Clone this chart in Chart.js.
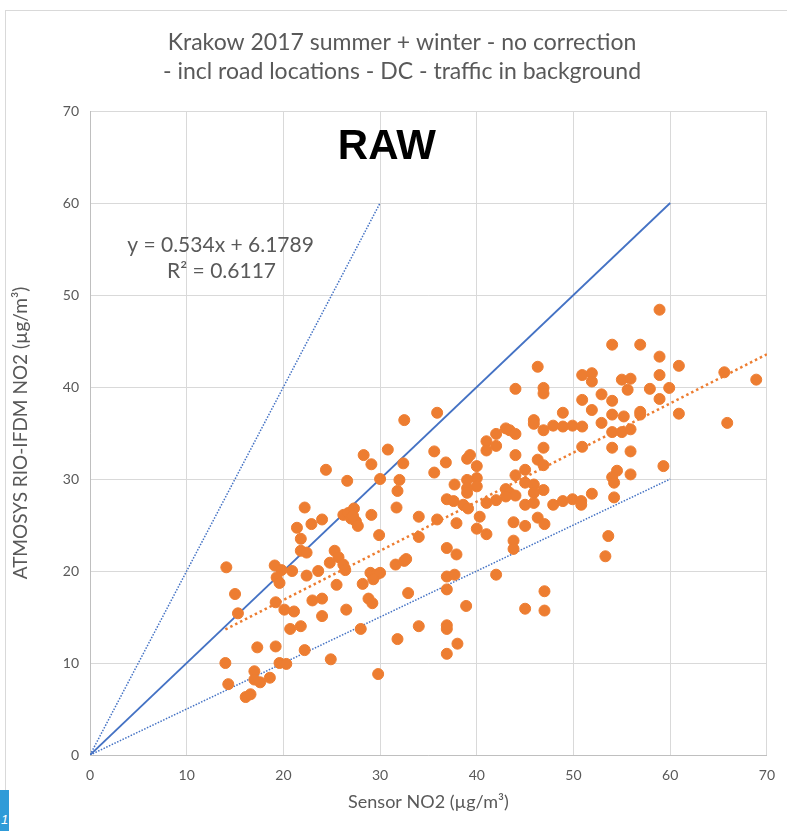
<!DOCTYPE html>
<html>
<head>
<meta charset="utf-8">
<script src="https://cdn.jsdelivr.net/npm/chart.js@4.4.1/dist/chart.umd.min.js"></script>
<style>
  html, body { margin: 0; padding: 0; background: #fff; }
  #wrap { position: relative; width: 787px; height: 831px; }
  #tag {
    position: absolute; left: 0; top: 790px; width: 9px; height: 41px;
    background: #2f9bd8; color: #fff; font: italic 13px "Liberation Sans";
    line-height: 60px; overflow: hidden; text-indent: 1px;
  }
</style>
</head>
<body>
<div id="wrap">
  <canvas id="chart" width="787" height="831"></canvas>
  <div id="tag">1</div>
</div>
<script>
const TITLE = [
  "Krakow 2017 summer + winter - no correction",
  "- incl road locations - DC - traffic in background",
];
const X_TITLE = "Sensor NO2 (µg/m³)";
const Y_TITLE = "ATMOSYS RIO-IFDM NO2 (µg/m³)";
const LABEL = "RAW";
const EQUATION = ["y = 0.534x + 6.1789", "R² = 0.6117"];

// sensor (x) and model (y) values, same order
const sensorNO2 = [
  14.1, 15.0, 15.3, 14.0, 14.3, 16.1, 16.6, 17.0, 17.0, 17.6, 17.3, 18.6, 19.2, 19.6, 20.3,
  19.1, 19.8, 19.3, 19.6, 19.2, 20.1, 21.1, 20.7, 21.8, 22.2, 20.9,
  21.4, 21.8, 21.8, 22.4, 22.9, 24.0, 22.2, 22.4, 23.6, 24.8, 25.3, 25.7, 26.2, 26.4, 25.5,
  23.0, 24.0, 24.0, 26.5, 24.9, 28.0, 24.4, 26.6,
  26.2, 26.7, 27.3, 27.0, 27.5, 27.7, 27.2,
  28.3, 29.1, 30.0, 29.1, 29.9, 28.2, 28.8, 29.2, 29.0, 29.6, 30.0, 29.3, 29.8, 30.8, 31.6,
  32.5, 32.7, 32.9, 31.8, 32.0, 31.8, 31.7,
  32.5, 35.9, 32.4, 35.6, 36.8, 35.6, 37.7, 36.9, 37.6, 38.6, 39.1, 39.0, 39.3, 40.0, 39.0,
  39.0, 39.0, 40.0, 40.0, 34.0, 34.0, 35.9, 37.9, 36.9, 37.9, 36.9, 37.7, 36.9, 38.9, 36.9,
  36.9, 34.0, 38.0, 36.9, 40.3, 40.0, 41.0,
  41.0, 41.0, 42.0, 42.0, 43.0, 43.4, 44.0, 44.0, 46.3, 46.9, 46.9, 45.9, 45.9, 46.9, 47.9,
  48.9, 49.9, 50.9, 48.9, 50.9, 50.9, 46.9, 50.9, 44.0, 46.3, 46.9, 45.0, 44.0, 45.0, 45.9,
  45.9, 46.9, 43.0, 43.4, 44.0, 43.0, 42.0, 41.0, 45.0, 45.9, 47.9, 48.9, 49.9, 50.8, 50.8,
  42.0, 43.8, 45.0, 46.3, 47.0, 43.8, 43.8, 47.0, 45.0, 47.0,
  51.9, 51.9, 54.0, 56.9, 58.9, 58.9, 60.9, 58.9, 65.6, 68.9, 55.0, 55.9, 55.6, 57.9, 59.9,
  58.9, 52.9, 54.0, 51.9, 54.0, 55.2, 56.9, 56.9, 60.9, 65.9, 52.9, 54.0, 55.0, 55.9, 54.0,
  55.9, 59.3, 54.5, 54.0, 54.2, 55.9, 51.9, 54.2, 53.6, 53.3,
];
const modelNO2 = [
  20.4, 17.5, 15.4, 10.0, 7.7, 6.3, 6.6, 9.1, 8.2, 7.9, 11.7, 8.4, 11.8, 10.0, 9.9,
  20.6, 20.1, 19.3, 18.7, 16.6, 15.8, 15.6, 13.7, 14.0, 11.4, 20.0,
  24.7, 23.5, 22.2, 22.0, 25.1, 25.6, 26.9, 19.5, 20.0, 20.9, 22.2, 21.5, 20.7, 20.1, 18.5,
  16.8, 17.0, 15.1, 15.8, 10.4, 13.7, 31.0, 29.8,
  26.1, 26.3, 26.8, 25.7, 25.4, 24.9, 26.0,
  32.6, 31.6, 30.0, 26.1, 23.9, 18.6, 17.0, 16.5, 19.8, 19.6, 19.8, 19.1, 8.8, 33.2, 20.7,
  21.1, 21.3, 17.6, 12.6, 29.9, 28.7, 26.9,
  36.4, 37.2, 31.7, 33.0, 31.8, 30.7, 29.4, 27.8, 27.6, 27.2, 26.8, 32.2, 32.6, 31.4, 29.9,
  29.0, 28.5, 30.1, 29.2, 25.9, 23.7, 25.6, 25.2, 22.5, 21.8, 19.4, 19.6, 18.0, 16.2, 14.1,
  13.7, 14.0, 12.1, 11.0, 25.9, 24.6, 24.0,
  34.1, 33.1, 34.9, 33.6, 35.5, 35.3, 34.9, 39.8, 42.2, 39.9, 39.3, 36.4, 36.0, 35.3, 35.8,
  35.7, 35.8, 35.7, 37.2, 38.6, 41.3, 33.4, 33.5, 32.6, 32.1, 31.5, 31.0, 30.4, 29.6, 29.4,
  28.5, 28.8, 28.9, 28.5, 28.2, 28.1, 27.7, 27.4, 27.2, 27.4, 27.2, 27.6, 27.8, 27.6, 27.2,
  19.6, 25.3, 24.9, 25.8, 25.1, 23.3, 22.4, 17.8, 15.9, 15.7,
  41.5, 40.6, 44.6, 44.6, 48.4, 43.3, 42.3, 41.3, 41.6, 40.8, 40.8, 40.9, 39.7, 39.8, 39.9,
  38.7, 39.2, 38.5, 37.5, 37.0, 36.8, 37.0, 37.3, 37.1, 36.1, 36.1, 35.1, 35.1, 35.4, 33.4,
  33.0, 31.4, 30.9, 30.2, 29.6, 30.5, 28.4, 28.0, 23.8, 21.6,
];

// reference lines (1:1, 2:1, 1:2) and linear trend
const oneToOneX = [0, 60], oneToOneY = [0, 60];
const twoToOneX = [0, 30], twoToOneY = [0, 60];
const halfX = [0, 60], halfY = [0, 30];
const trendX = [14, 70], trendY = [13.65, 43.56];

const AXIS_TICKS = [0, 10, 20, 30, 40, 50, 60, 70];

const ORANGE = "#ED7D31";
const BLUE = "#4472C4";
const TEXT = "#595959";
const GRID = "#d9d9d9";
const FONT = "Lato";

const pts = (xs, ys) => xs.map((v, i) => ({ x: v, y: ys[i] }));

const textLayer = {
  id: "textLayer",
  beforeDraw(chart) {
    const { ctx } = chart;
    ctx.save();
    ctx.strokeStyle = GRID;
    ctx.lineWidth = 1;
    ctx.strokeRect(5.5, 10.5, 900, 900);
    ctx.restore();
  },
  afterDatasetsDraw(chart) {
    const { ctx, scales: { x, y } } = chart;
    ctx.save();
    ctx.textAlign = "center";
    ctx.textBaseline = "middle";
    ctx.fillStyle = TEXT;
    ctx.font = `23px ${FONT}`;
    TITLE.forEach((line, i) => ctx.fillText(line, 402, 43 + i * 29));

    ctx.fillStyle = "#000";
    ctx.font = "bold 42px 'Liberation Sans'";
    ctx.fillText(LABEL, x.getPixelForValue(30.7), y.getPixelForValue(66));

    ctx.fillStyle = TEXT;
    ctx.font = `21px ${FONT}`;
    ctx.fillText(EQUATION[0], x.getPixelForValue(13.5), y.getPixelForValue(55.4));
    ctx.fillText(EQUATION[1], x.getPixelForValue(13.6), y.getPixelForValue(52.6));
    ctx.restore();
  },
};

const lineSet = (data, dash, width) => ({
  type: "line",
  data,
  borderColor: BLUE,
  borderWidth: width,
  borderDash: dash,
  pointRadius: 0,
  fill: false,
  tension: 0,
});

new Chart(document.getElementById("chart"), {
  type: "scatter",
  data: {
    datasets: [
      {
        label: "NO2",
        data: pts(sensorNO2, modelNO2),
        backgroundColor: ORANGE,
        borderColor: ORANGE,
        pointRadius: 5.5,
        pointHoverRadius: 5.5,
      },
      { ...lineSet(pts(trendX, trendY), [2.5, 3], 2.5), borderColor: ORANGE },
      lineSet(pts(oneToOneX, oneToOneY), [], 1.8),
      lineSet(pts(twoToOneX, twoToOneY), [1.5, 1.5], 1.5),
      lineSet(pts(halfX, halfY), [1.5, 1.5], 1.5),
    ],
  },
  options: {
    responsive: false,
    animation: false,
    layout: { padding: { top: 111, right: 19, bottom: 0, left: 0 } },
    plugins: {
      legend: { display: false },
      tooltip: { enabled: false },
    },
    scales: {
      x: {
        type: "linear",
        min: 0,
        max: 70,
        afterBuildTicks: (s) => { s.ticks = AXIS_TICKS.map((v) => ({ value: v })); },
        afterFit: (s) => { s.height = 76; },
        grid: { color: GRID, drawTicks: false },
        border: { color: "#bfbfbf" },
        ticks: { color: TEXT, padding: 12, font: { family: FONT, size: 14 } },
        title: {
          display: true,
          text: X_TITLE,
          color: TEXT,
          padding: { top: 0, bottom: 18 },
          font: { family: FONT, size: 18 },
        },
      },
      y: {
        type: "linear",
        min: 0,
        max: 70,
        afterBuildTicks: (s) => { s.ticks = AXIS_TICKS.map((v) => ({ value: v })); },
        afterFit: (s) => { s.width = 90; },
        grid: { color: GRID, drawTicks: false },
        border: { color: "#bfbfbf" },
        ticks: { color: TEXT, padding: 11, font: { family: FONT, size: 14 } },
        title: {
          display: true,
          text: Y_TITLE,
          color: TEXT,
          padding: { top: 9, bottom: 0 },
          font: { family: FONT, size: 19 },
        },
      },
    },
  },
  plugins: [textLayer],
});
</script>
</body>
</html>
